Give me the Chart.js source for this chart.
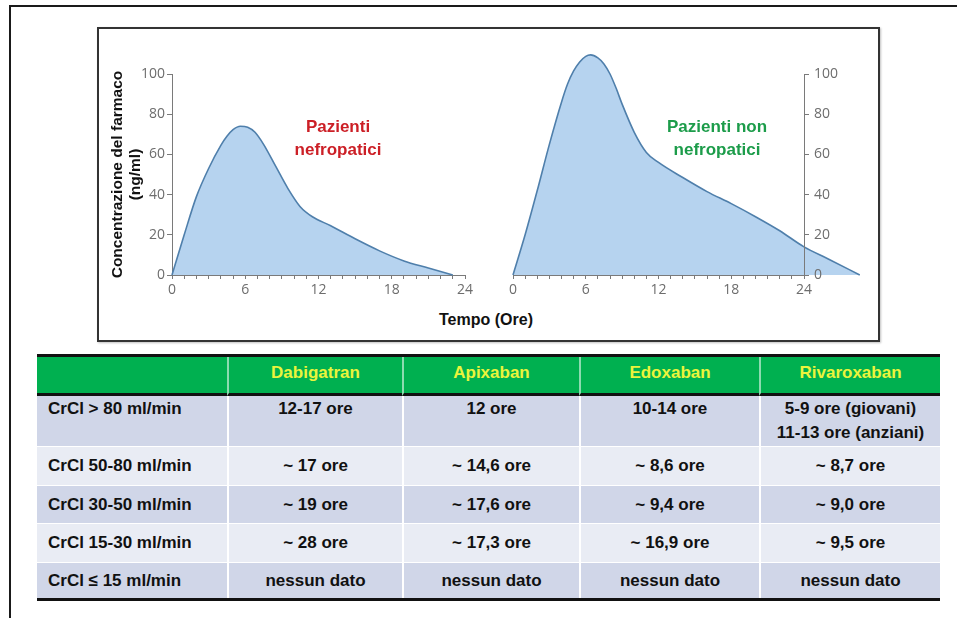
<!DOCTYPE html>
<html>
<head>
<meta charset="utf-8">
<title>Concentrazione del farmaco</title>
<script src="https://cdn.jsdelivr.net/npm/chart.js@4.4.1/dist/chart.umd.min.js"></script>
<style>
  html, body { margin: 0; padding: 0; }
  body { width: 957px; height: 618px; position: relative; overflow: hidden; background: #fff;
         font-family: "Liberation Sans", Arial, sans-serif; }
  #frame { position: absolute; left: 9px; top: 5px; width: 980px; height: 640px;
           border-left: 2px solid #1a1a1a; border-top: 2px solid #1a1a1a; }
  #plotBox { position: absolute; left: 97px; top: 27px; width: 779px; height: 311px;
             border: 2px solid #333; box-shadow: 1px 1px 2px rgba(0,0,0,0.25); }
  canvas { position: absolute; top: 40px; }
  #renalChart { left: 100px; }
  #normalChart { left: 490px; }
  .note { position: absolute; font-weight: bold; font-size: 17px; line-height: 23px; text-align: center; }
  #renalNote { left: 268px; top: 115px; width: 140px; color: #cc1f26; }
  #normalNote { left: 642px; top: 115px; width: 150px; color: #1c9c4a; }
  #timeTitle { position: absolute; left: 386px; top: 310px; width: 200px; text-align: center;
               font-weight: bold; font-size: 16px; line-height: 20px; color: #111; }
  #halfLife { position: absolute; left: 37px; top: 354px; width: 903px; display: grid;
              grid-template-columns: 190px 175px 177px 180px 181px;
              grid-template-rows: 39px 50px 39px 38px 39px 36px;
              border-top: 3px solid #111; border-bottom: 3px solid #111;
              font-weight: bold; font-size: 17px; color: #111; }
  .cell { box-sizing: border-box; display: flex; align-items: center; justify-content: center;
          text-align: center; white-space: pre-line; line-height: 24px; }
  .cell.side { justify-content: flex-start; padding-left: 11px; }
  .cell.inner { border-left: 2px solid #fff; }
  .cell.head { background: #00b050; color: #ebf43c; border-bottom: 3px solid #111; padding-bottom: 4px; }
  .cell.head.inner { border-left: 2px solid rgba(255,255,255,0.55); }
  .cell.dark { background: #d0d6e8; }
  .cell.light { background: #e9ecf4; }
  .cell.sep { border-top: 1px solid #fff; }
  .cell.top { align-items: flex-start; padding-top: 1px; }
</style>
</head>
<body>
<div id="frame"></div>
<div id="plotBox"></div>
<canvas id="renalChart" width="380" height="260"></canvas>
<canvas id="normalChart" width="380" height="260"></canvas>
<div class="note" id="renalNote">Pazienti<br>nefropatici</div>
<div class="note" id="normalNote">Pazienti non<br>nefropatici</div>
<div id="timeTitle">Tempo (Ore)</div>
<div id="halfLife"></div>

<script>
// concentration curves (hours, ng/ml)
const renalHours = [0, 1, 2, 3, 4, 4.5, 5, 5.6, 6.2, 6.8, 7.5, 8.5, 9.5, 10.5, 11.5, 13, 15, 17, 19, 21, 23];
const renalConc = [0, 20, 39, 53, 64.5, 69, 72.3, 74, 73.5, 71, 65, 54, 43, 34, 29, 24.5, 18, 12, 7, 3.5, 0];
const normalHours = [0, 1, 2, 3, 4, 4.5, 5, 5.5, 6, 6.4, 7, 7.5, 8, 8.5, 9, 10, 11, 12, 14, 16, 18, 20, 22, 24, 26, 28.6];
const normalConc = [0, 20, 42, 65, 86, 95, 101.5, 106, 108.8, 109.5, 108, 105, 100, 93, 85, 71, 61, 56, 48.5, 41.5, 35.5, 29, 22, 14, 8, 0];
const hourLabels = [0, 6, 12, 18, 24];
const concLabels = [0, 20, 40, 60, 80, 100];

// half-life table
const drugNames = ['Dabigatran', 'Apixaban', 'Edoxaban', 'Rivaroxaban'];
const clearanceBands = ['CrCl > 80 ml/min', 'CrCl 50-80 ml/min', 'CrCl 30-50 ml/min', 'CrCl 15-30 ml/min', 'CrCl \u2264 15 ml/min'];
const dabigatranHalfLife = ['12-17 ore', '~ 17 ore', '~ 19 ore', '~ 28 ore', 'nessun dato'];
const apixabanHalfLife = ['12 ore', '~ 14,6 ore', '~ 17,6 ore', '~ 17,3 ore', 'nessun dato'];
const edoxabanHalfLife = ['10-14 ore', '~ 8,6 ore', '~ 9,4 ore', '~ 16,9 ore', 'nessun dato'];
const rivaroxabanHalfLife = ['5-9 ore (giovani)\n11-13 ore (anziani)', '~ 8,7 ore', '~ 9,0 ore', '~ 9,5 ore', 'nessun dato'];

const tickFont = { family: '"Open Sans", sans-serif', size: 14 };
const tickColor = '#6d6d6d';
const axisGrey = '#7a7a7a';

// let the curve and its fill run past the plot area (tail after 24 h, peak above 100)
const openClip = {
    id: 'openClip',
    beforeDatasetsDraw(chart) {
        const a = chart.chartArea;
        chart.$area = a;
        chart.chartArea = { left: 0, top: 0, right: chart.width, bottom: a.bottom, width: chart.width, height: a.bottom };
    },
    afterDatasetsDraw(chart) {
        chart.chartArea = chart.$area;
    }
};

function timeAxis() {
    return {
        type: 'linear',
        min: 0,
        afterDataLimits: s => { s.max = 24; },
        ticks: {
            stepSize: 1, autoSkip: false, maxRotation: 0, padding: 3,
            color: tickColor, font: tickFont,
            callback: v => hourLabels.includes(v) ? String(v) : ''
        },
        grid: { drawOnChartArea: false, tickLength: 4, color: axisGrey },
        border: { color: axisGrey },
        afterFit: s => { s.height = 25; }
    };
}

function concAxis(side) {
    const front = side === 'right' ? 1 : 0;
    const axis = {
        position: side,
        min: 0,
        max: 100,
        afterBuildTicks: s => { s.ticks = concLabels.map(v => ({ value: v })); },
        ticks: { padding: side === 'left' ? 2 : 5, color: tickColor, font: tickFont, z: front },
        grid: { drawOnChartArea: false, tickLength: 5, color: axisGrey, z: front },
        border: { color: axisGrey, z: front },
        afterFit: s => { s.width = side === 'left' ? 72 : 50; }
    };
    if (side === 'left') {
        axis.title = {
            display: true,
            text: ['Concentrazione del farmaco', '(ng/ml)'],
            color: '#111',
            font: { family: '"Liberation Sans", Arial, sans-serif', size: 15.5, weight: 'bold', lineHeight: 1.15 },
            padding: { top: 9, bottom: 0 }
        };
    }
    return axis;
}

function makeChart(id, hours, conc, side, padding) {
    return new Chart(document.getElementById(id), {
        type: 'line',
        data: {
            datasets: [{
                data: hours.map((h, i) => ({ x: h, y: conc[i] })),
                borderColor: '#4f7fab',
                borderWidth: 1.6,
                backgroundColor: '#b6d3ef',
                fill: 'origin',
                cubicInterpolationMode: 'monotone',
                clip: false
            }]
        },
        options: {
            responsive: false,
            animation: false,
            layout: { padding },
            elements: { point: { radius: 0 }, line: { capBezierPoints: false } },
            plugins: { legend: { display: false }, tooltip: { enabled: false } },
            scales: { x: timeAxis(), y: concAxis(side) }
        },
        plugins: [openClip]
    });
}

makeChart('renalChart', renalHours, renalConc, 'left', { left: 0, top: 34, right: 15, bottom: 0 });
makeChart('normalChart', normalHours, normalConc, 'right', { left: 23, top: 34, right: 16, bottom: 0 });

// build table
const table = document.getElementById('halfLife');
const columns = [clearanceBands, dabigatranHalfLife, apixabanHalfLife, edoxabanHalfLife, rivaroxabanHalfLife];
function addCell(text, classes) {
    const d = document.createElement('div');
    d.className = 'cell ' + classes;
    d.textContent = text;
    table.appendChild(d);
}
addCell('', 'head side');
drugNames.forEach(n => addCell(n, 'head inner'));
clearanceBands.forEach((band, r) => {
    const shade = r % 2 === 0 ? 'dark' : 'light';
    columns.forEach((col, c) => {
        let cls = shade + (c === 0 ? ' side' : ' inner');
        if (r > 0) cls += ' sep';
        if (r === 0) cls += ' top';
        addCell(col[r], cls);
    });
});
</script>
</body>
</html>
